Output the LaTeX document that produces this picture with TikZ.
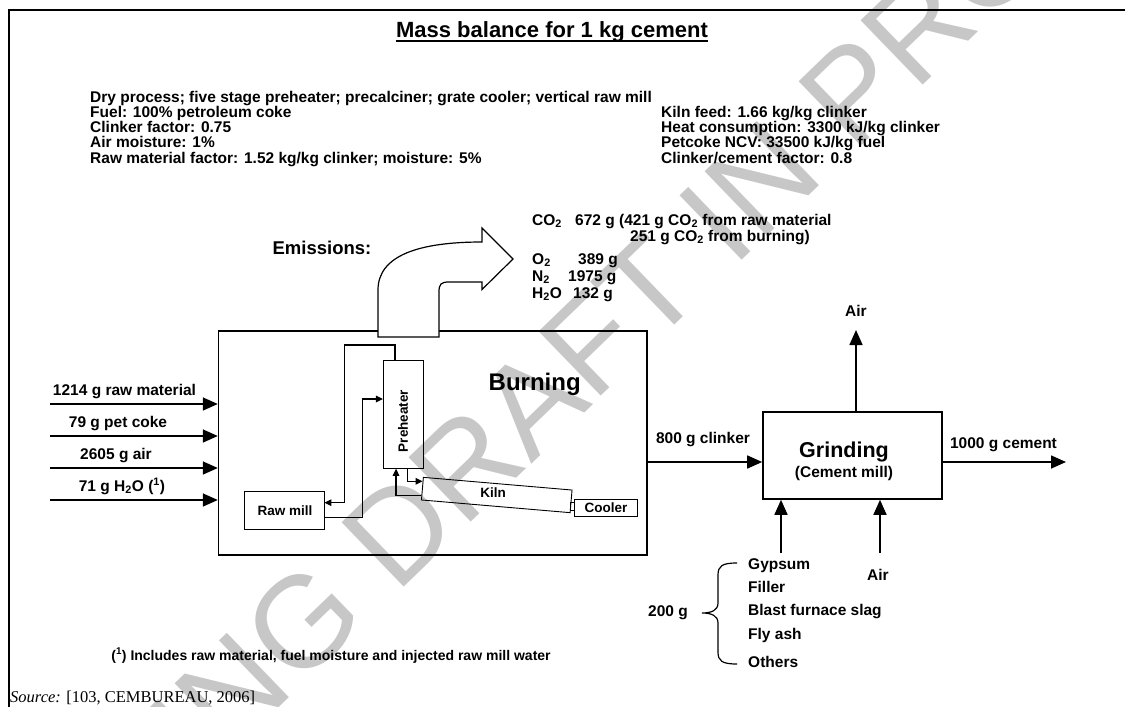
\documentclass[tikz,border=0pt]{standalone}
\usepackage{fontspec}
\setmainfont{Liberation Sans}
\newfontfamily\srcfont{Liberation Serif}
\usetikzlibrary{arrows.meta,calc}
\newcommand\myfs[1]{\fontsize{#1}{#1}\selectfont}
\begin{document}
\begin{tikzpicture}[x=1pt,y=-1pt,
  lbl/.style={inner sep=0pt, font=\myfs{15.5}\bfseries},
  small/.style={inner sep=0pt, font=\myfs{13.5}\bfseries},
  boxb/.style={draw, line width=1.6pt, inner sep=0pt},
  boxs/.style={draw, line width=0.9pt, inner sep=0pt},
  arr/.style={line width=1.6pt, -{Triangle[length=15pt,width=13pt]}},
  sarr/.style={line width=1.3pt, -{Triangle[length=7pt,width=6.5pt]}},
  wmark/.style={inner sep=0pt, text=black!22, font=\myfs{130}}]
\useasboundingbox (0,0) rectangle (1125,707);
\clip (0,0) rectangle (1125,707);
\fill[white] (0,0) rectangle (1125,707);
% watermark
\node[wmark, rotate=44] (wm) at (617,319) {WORKING DRAFT IN PROGRESS};
% frame
\draw[line width=2.2pt] (8.7,707) -- (8.7,10) -- (1125,10);
% title
\node[inner sep=0pt, font=\myfs{22}\bfseries, anchor=base] (title) at (552,37) {Mass balance for 1 kg cement};
\draw[line width=1.5pt] ([yshift=-4pt]title.base west) -- ([yshift=-4pt]title.base east);
% parameter block
\foreach \t [count=\i] in {{Dry process; five stage preheater; precalciner; grate cooler; vertical raw mill},
  {Fuel: 100\% petroleum coke},{Clinker factor: 0.75},{Air moisture: 1\%},
  {Raw material factor: 1.52 kg/kg clinker; moisture: 5\%}}
  \node[lbl, anchor=base west] (pl\i) at (90,{102+15.33*(\i-1)}) {\t};
\foreach \t [count=\i] in {{Kiln feed: 1.66 kg/kg clinker},{Heat consumption: 3300 kJ/kg clinker},
  {Petcoke NCV: 33500 kJ/kg fuel},{Clinker/cement factor: 0.8}}
  \node[lbl, anchor=base west] (pr\i) at (661,{117.33+15.33*(\i-1)}) {\t};
% burning box
\node[boxb, minimum width=428.4pt, minimum height=224pt] (burn) at (432.8,443) {};
\node[inner sep=0pt, font=\myfs{24}\bfseries, anchor=base] (burnlbl) at (534.7,390) {Burning};
% emissions arrow
\draw[line width=1.2pt, fill=white] (378,337) -- (378,290) .. controls (378,255) and (420,242) .. (482,242)
  -- (482,228) -- (513,259) -- (482,289.5) -- (482,282) -- (449,282)
  .. controls (441,282) and (439,284) .. (439,292) -- (439,337) -- cycle;
\node[inner sep=0pt, font=\myfs{18.5}\bfseries, anchor=base] (emis) at (322,254.5) {Emissions:};
% emission values
\node[lbl, anchor=base west] (co2l) at (532,225) {CO\textsubscript{2}};
\node[lbl, anchor=base west] (co2v) at (575,225) {672 g (421 g CO\textsubscript{2} from raw material};
\node[lbl, anchor=base west] (co2w) at (630,241) {251 g CO\textsubscript{2} from burning)};
\node[lbl, anchor=base west] (o2l) at (532,264) {O\textsubscript{2}};
\node[lbl, anchor=base west] (o2v) at (578,264) {389 g};
\node[lbl, anchor=base west] (n2l) at (532,281) {N\textsubscript{2}};
\node[lbl, anchor=base west] (n2v) at (568,281) {1975 g};
\node[lbl, anchor=base west] (h2ol) at (532,298) {H\textsubscript{2}O};
\node[lbl, anchor=base west] (h2ov) at (573,298) {132 g};
% inputs
\coordinate (i1) at (50,404);
\coordinate (i2) at (50,436);
\coordinate (i3) at (50,468);
\coordinate (i4) at (50,500);
\foreach \k in {1,2,3,4} \draw[arr] (i\k) -- (i\k -| burn.west);
\node[lbl, anchor=base] (l1) at (124.5,395) {1214 g raw material};
\node[lbl, anchor=base] (l2) at (118,427) {79 g pet coke};
\node[lbl, anchor=base] (l3) at (116,459) {2605 g air};
\node[lbl, anchor=base] (l4) at (122,491) {71 g H\textsubscript{2}O (\textsuperscript{1})};
% inner units
\node[boxs, minimum width=40.3pt, minimum height=108.3pt] (pre) at (403.55,414.15) {};
\node[small, rotate=90] (prelbl) at (403,421) {Preheater};
\node[boxs, minimum width=80pt, minimum height=38pt] (rm) at (284,510) {};
\node[small] (rmlbl) at (285,510.7) {Raw mill};
\node[boxs, minimum width=149.2pt, minimum height=22.7pt, rotate=-4.88] (kiln) at (496.75,495) {};
\node[small] (kilnlbl) at (493,493) {Kiln};
\node[boxs, minimum width=4.3pt, minimum height=8pt] (kc) at (572.2,506.7) {};
\node[boxs, minimum width=63.4pt, minimum height=17pt] (cool) at (606,507.5) {};
\node[small] (coollbl) at (606,507.5) {Cooler};
\coordinate (kA) at ($(kiln.north west)!0.19!(kiln.south west)$);
\coordinate (kB) at ($(kiln.north west)!0.78!(kiln.south west)$);
\draw[sarr] ([xshift=-8.5pt]pre.north) |- (344.7,345) |- ([yshift=7.3pt]rm.east);
\draw[sarr] ([yshift=-7.7pt]rm.east) -| ([xshift=-20.6pt,yshift=15.15pt]pre.west) -- ([yshift=15.15pt]pre.west);
\draw[sarr] ([xshift=4.2pt]pre.south) |- (kA);
\draw[sarr] (kB) -| ([xshift=-7.5pt]pre.south);
% grinding
\node[boxb, minimum width=179pt, minimum height=87pt] (grind) at (852.5,455.5) {};
\node[inner sep=0pt, font=\myfs{21.5}\bfseries, anchor=base] (grlbl) at (844,457) {Grinding};
\node[lbl, anchor=base] (cmlbl) at (844,477) {(Cement mill)};
\coordinate (ck) at (647,462);
\draw[arr] (ck) -- (ck -| grind.west);
\node[lbl, anchor=base] (clk) at (703,443) {800 g clinker};
\coordinate (cem) at (1066,462);
\draw[arr] (cem -| grind.east) -- (cem);
\node[lbl, anchor=base] (cemlbl) at (1003.5,448) {1000 g cement};
\coordinate (airtop) at (856,330);
\draw[arr] (airtop |- grind.north) -- (airtop);
\node[lbl, anchor=base] (airlbl) at (856,316.5) {Air};
\coordinate (b1) at (781,553);
\coordinate (b2) at (880,553);
\draw[arr] (b1) -- (b1 |- grind.south);
\draw[arr] (b2) -- (b2 |- grind.south);
\node[lbl, anchor=base] (air2) at (878,580) {Air};
% brace and additives
\draw[line width=1.2pt] (737,563) .. controls (722,563) and (718,566) .. (718,575) -- (718,603)
  .. controls (718,610) and (712,613) .. (702,613)
  .. controls (712,613) and (718,616) .. (718,623) -- (718,652)
  .. controls (718,661) and (722,664) .. (737,664);
\node[lbl, anchor=base] (g200) at (668,616.5) {200 g};
\node[lbl, anchor=base west] (a1) at (748,569.5) {Gypsum};
\node[lbl, anchor=base west] (a2) at (748,592.5) {Filler};
\node[lbl, anchor=base west] (a3) at (748,615.5) {Blast furnace slag};
\node[lbl, anchor=base west] (a4) at (748,639.5) {Fly ash};
\node[lbl, anchor=base west] (a5) at (748,667.5) {Others};
% footnote and source
\node[inner sep=0pt, font=\myfs{14}\bfseries, anchor=base] (fn) at (331,660) {(\textsuperscript{1}) Includes raw material, fuel moisture and injected raw mill water};
\node[inner sep=0pt, font=\srcfont\myfs{16.5}, anchor=base west] (src) at (10,702) {\textit{Source:} [103, CEMBUREAU, 2006]};
\end{tikzpicture}
\end{document}
